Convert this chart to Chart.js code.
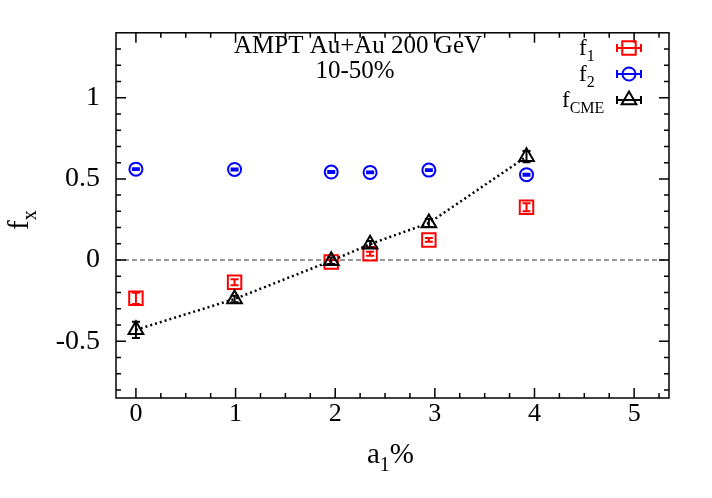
<!DOCTYPE html>
<html>
<head>
<meta charset="utf-8">
<script src="https://cdn.jsdelivr.net/npm/chart.js@4.4.1/dist/chart.umd.min.js"></script>
<style>
  body { margin: 0; background: #fff; }
  #wrap { width: 712px; height: 498px; }
</style>
</head>
<body>
<div id="wrap"><canvas id="fxChart"></canvas></div>
<script>
// a1 (%) values of the points
const a1 = [0, 0.99, 1.96, 2.35, 2.94, 3.92];

const f1 = [-0.236, -0.137, -0.012, 0.039, 0.124, 0.325];
const f1Err = [0.035, 0.018, 0.012, 0.012, 0.012, 0.025];

const f2 = [0.560, 0.558, 0.542, 0.540, 0.554, 0.526];
const f2Err = [0.006, 0.006, 0.006, 0.006, 0.006, 0.006];

const fCME = [-0.43, -0.24, -0.005, 0.098, 0.228, 0.637];
const fCMEErr = [0.05, 0.02, 0.02, 0.02, 0.025, 0.035];

const xTicks = [0, 1, 2, 3, 4, 5];
const yTicks = [-0.5, 0, 0.5, 1];

const FONT = "'Liberation Serif', 'DejaVu Serif', serif";

const toPoints = (xs, ys) => xs.map((x, i) => ({ x: x, y: ys[i] }));
const errors = [f1Err, f2Err, fCMEErr];

// draws "base" followed by a subscript, returns end x
function drawSub(ctx, base, sub, x, y, size, after) {
    ctx.font = size + 'px ' + FONT;
    ctx.fillText(base, x, y);
    let cx = x + ctx.measureText(base).width;
    ctx.font = Math.round(size * 0.68) + 'px ' + FONT;
    ctx.fillText(sub, cx, y + size * 0.28);
    cx += ctx.measureText(sub).width;
    if (after) {
        ctx.font = size + 'px ' + FONT;
        ctx.fillText(after, cx, y);
        cx += ctx.measureText(after).width;
    }
    return cx;
}

const decorations = {
    id: 'decorations',
    beforeDatasetsDraw(chart) {
        const { ctx, chartArea: a, scales: { x, y } } = chart;
        ctx.save();
        // zero line
        const y0 = y.getPixelForValue(0);
        ctx.strokeStyle = '#777';
        ctx.lineWidth = 1.5;
        ctx.setLineDash([5, 3]);
        ctx.beginPath();
        ctx.moveTo(a.left, y0);
        ctx.lineTo(a.right, y0);
        ctx.stroke();
        ctx.setLineDash([]);

        // ticks, pointing inwards on all four sides
        ctx.strokeStyle = '#000';
        ctx.lineWidth = 1.5;
        ctx.beginPath();
        for (let i = 0; i <= 21; i++) {
            const px = x.getPixelForValue(i * 0.25);
            const len = (i % 4 === 0) ? 10 : 5;
            ctx.moveTo(px, a.bottom); ctx.lineTo(px, a.bottom - len);
            ctx.moveTo(px, a.top); ctx.lineTo(px, a.top + len);
        }
        for (let i = -8; i <= 13; i++) {
            const py = y.getPixelForValue(i / 10);
            const len = (i % 5 === 0) ? 10 : 5;
            ctx.moveTo(a.left, py); ctx.lineTo(a.left + len, py);
            ctx.moveTo(a.right, py); ctx.lineTo(a.right - len, py);
        }
        ctx.stroke();
        ctx.restore();
    },
    afterDatasetDraw(chart, args) {
        const { ctx, scales: { x, y } } = chart;
        const ds = chart.data.datasets[args.index];
        const err = errors[ds.errIndex];
        ctx.save();
        ctx.strokeStyle = ds.pointBorderColor;
        ctx.lineWidth = 2;
        ctx.beginPath();
        ds.data.forEach((p, i) => {
            const px = x.getPixelForValue(p.x);
            const top = y.getPixelForValue(p.y + err[i]);
            const bot = y.getPixelForValue(p.y - err[i]);
            ctx.moveTo(px, top); ctx.lineTo(px, bot);
            ctx.moveTo(px - 4, top); ctx.lineTo(px + 4, top);
            ctx.moveTo(px - 4, bot); ctx.lineTo(px + 4, bot);
        });
        ctx.stroke();
        ctx.restore();
    },
    afterDraw(chart) {
        const { ctx, chartArea: a } = chart;
        ctx.save();
        // frame
        ctx.strokeStyle = '#000';
        ctx.lineWidth = 1.5;
        ctx.strokeRect(a.left, a.top, a.right - a.left, a.bottom - a.top);

        ctx.fillStyle = '#000';
        ctx.textBaseline = 'alphabetic';
        // title
        ctx.textAlign = 'center';
        ctx.font = '25px ' + FONT;
        ctx.fillText('AMPT Au+Au 200 GeV', 358, 53);
        ctx.fillText('10-50%', 355, 78);

        ctx.textAlign = 'left';
        // x axis title
        drawSub(ctx, 'a', '1', 367, 463, 29, '%');
        // y axis title
        ctx.save();
        ctx.translate(28, 230);
        ctx.rotate(-Math.PI / 2);
        drawSub(ctx, 'f', 'x', 0, 0, 29);
        ctx.restore();

        // legend
        const rows = [
            { label: 'f', sub: '1', tx: 579, color: '#ff0000', style: 'rect', r: 9.5 },
            { label: 'f', sub: '2', tx: 579, color: '#0000ff', style: 'circle', r: 6.5 },
            { label: 'f', sub: 'CME', tx: 562, color: '#000000', style: 'triangle', r: 8.5 }
        ];
        rows.forEach((row, i) => {
            const ly = 48 + i * 26;
            ctx.fillStyle = '#000';
            drawSub(ctx, row.label, row.sub, row.tx, ly + 7, 23);
            const sx = 629;
            ctx.strokeStyle = row.color;
            ctx.fillStyle = 'rgba(0,0,0,0)';
            ctx.lineWidth = 2;
            Chart.helpers.drawPoint(ctx, { pointStyle: row.style, rotation: 0, radius: row.r, borderWidth: 2 }, sx, ly);
            ctx.beginPath();
            ctx.moveTo(sx - 12, ly); ctx.lineTo(sx + 12, ly);
            ctx.moveTo(sx - 12, ly - 4); ctx.lineTo(sx - 12, ly + 4);
            ctx.moveTo(sx + 12, ly - 4); ctx.lineTo(sx + 12, ly + 4);
            ctx.stroke();
        });
        ctx.restore();
    }
};

const ctx = document.getElementById('fxChart').getContext('2d');

const chart = new Chart(ctx, {
    type: 'scatter',
    data: {
        datasets: [
            {
                label: 'fCME',
                data: toPoints(a1, fCME),
                errIndex: 2,
                order: 0,
                showLine: true,
                borderColor: '#000',
                borderWidth: 2.5,
                borderDash: [2, 3],
                pointStyle: 'triangle',
                pointRadius: 8.5,
                pointBorderWidth: 2,
                pointBorderColor: '#000000',
                pointBackgroundColor: 'rgba(0,0,0,0)'
            },
            {
                label: 'f2',
                data: toPoints(a1, f2),
                errIndex: 1,
                order: 1,
                pointStyle: 'circle',
                pointRadius: 6.5,
                pointBorderWidth: 2,
                pointBorderColor: '#0000ff',
                pointBackgroundColor: 'rgba(0,0,0,0)'
            },
            {
                label: 'f1',
                data: toPoints(a1, f1),
                errIndex: 0,
                order: 2,
                pointStyle: 'rect',
                pointRadius: 9.5,
                pointBorderWidth: 2,
                pointBorderColor: '#ff0000',
                pointBackgroundColor: 'rgba(0,0,0,0)'
            }
        ]
    },
    options: {
        responsive: true,
        maintainAspectRatio: false,
        animation: false,
        layout: {
            padding: { left: 0, right: 43, top: 28, bottom: 0 }
        },
        scales: {
            x: {
                type: 'linear',
                min: -0.2,
                max: 5.35,
                afterFit: (scale) => { scale.height = 100; },
                afterBuildTicks: (scale) => { scale.ticks = xTicks.map(v => ({ value: v })); },
                grid: { display: false, drawTicks: false },
                border: { display: false },
                ticks: {
                    color: '#000',
                    padding: 1,
                    maxRotation: 0,
                    callback: (v) => String(v),
                    font: { family: FONT, size: 26 }
                }
            },
            y: {
                min: -0.85,
                max: 1.4,
                afterFit: (scale) => { scale.width = 116; },
                afterBuildTicks: (scale) => { scale.ticks = yTicks.map(v => ({ value: v })); },
                grid: { display: false, drawTicks: false },
                border: { display: false },
                ticks: {
                    color: '#000',
                    padding: 16,
                    callback: (v) => String(v),
                    font: { family: FONT, size: 28 }
                }
            }
        },
        plugins: {
            legend: { display: false },
            tooltip: { enabled: false }
        }
    },
    plugins: [decorations]
});
</script>
</body>
</html>
